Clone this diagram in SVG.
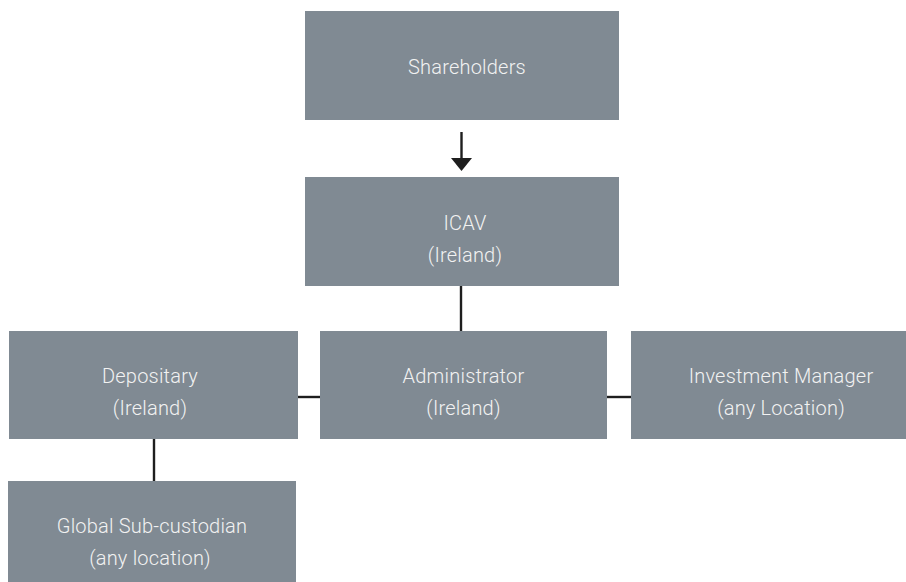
<svg xmlns="http://www.w3.org/2000/svg" width="906" height="582" viewBox="0 0 906 582">
<style>
.box{fill:#808a93}
.t{font-family:Roboto,"Liberation Sans",sans-serif;font-weight:300;font-size:20px;fill:#f2f2f2;text-anchor:middle;letter-spacing:0.2px}
.c{stroke:#1e1e1e;stroke-width:2.4;fill:none}
</style>
<defs>
<marker id="ah" markerWidth="21" markerHeight="14" refX="0" refY="7" orient="auto" markerUnits="userSpaceOnUse">
<path d="M0,0 L13,10.5 L0,21 z" fill="#1e1e1e" transform="translate(0,-3.5)"/>
</marker>
</defs>
<rect width="906" height="582" fill="#ffffff"/>
<g id="connectors">
<line class="c" x1="461.5" y1="132" x2="461.5" y2="159"/>
<path d="M451,158 L472,158 L461.5,171 z" fill="#1e1e1e"/>
<line class="c" x1="461" y1="286" x2="461" y2="331"/>
<line class="c" x1="298" y1="397" x2="320" y2="397"/>
<line class="c" x1="607" y1="397" x2="631" y2="397"/>
<line class="c" x1="154" y1="439" x2="154" y2="481"/>
</g>
<g id="shareholders">
<rect class="box" x="305" y="11" width="314" height="109"/>
<text class="t" x="467" y="74">Shareholders</text>
</g>
<g id="icav">
<rect class="box" x="305" y="177" width="314" height="109"/>
<text class="t" x="465" y="230">ICAV</text>
<text class="t" x="465" y="262">(Ireland)</text>
</g>
<g id="depositary">
<rect class="box" x="9" y="331" width="289" height="108"/>
<text class="t" x="150" y="383">Depositary</text>
<text class="t" x="150" y="415">(Ireland)</text>
</g>
<g id="administrator">
<rect class="box" x="320" y="331" width="287" height="108"/>
<text class="t" x="463.5" y="383">Administrator</text>
<text class="t" x="463.5" y="415">(Ireland)</text>
</g>
<g id="investment-manager">
<rect class="box" x="631" y="331" width="275" height="108"/>
<text class="t" x="781" y="383">Investment Manager</text>
<text class="t" x="781" y="415">(any Location)</text>
</g>
<g id="sub-custodian">
<rect class="box" x="8" y="481" width="288" height="101"/>
<text class="t" x="152" y="533">Global Sub-custodian</text>
<text class="t" x="150" y="565">(any location)</text>
</g>
</svg>
